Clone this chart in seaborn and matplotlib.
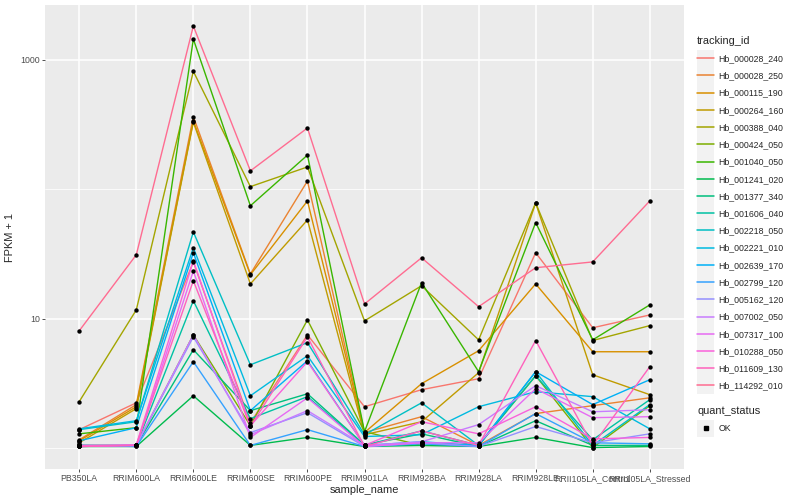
import pandas as pd
import matplotlib
matplotlib.use('Agg')
import matplotlib.pyplot as plt
import seaborn as sns
from matplotlib.lines import Line2D
from matplotlib.patches import Rectangle
from matplotlib.legend_handler import HandlerLine2D
from matplotlib.ticker import FixedLocator, NullFormatter

# muestras (eje x)
samples = ['PB350LA', 'RRIM600LA', 'RRIM600LE', 'RRIM600SE', 'RRIM600PE',
           'RRIM901LA', 'RRIM928BA', 'RRIM928LA', 'RRIM928LE',
           'RRII105LA_Control', 'RRII105LA_Stressed']

tracking_ids = ['Hb_000028_240', 'Hb_000028_250', 'Hb_000115_190', 'Hb_000264_160',
                'Hb_000388_040', 'Hb_000424_050', 'Hb_001040_050', 'Hb_001241_020',
                'Hb_001377_340', 'Hb_001606_040', 'Hb_002218_050', 'Hb_002221_010',
                'Hb_002639_170', 'Hb_002799_120', 'Hb_005162_120', 'Hb_007002_050',
                'Hb_007317_100', 'Hb_010288_050', 'Hb_011609_130', 'Hb_114292_010']

# colores tipo ggplot (hue_pal)
colors = ['#F8766D', '#EA8331', '#D89000', '#C09B00', '#A3A500', '#7CAE00',
          '#39B600', '#00BB4E', '#00BF7D', '#00C1A3', '#00BFC4', '#00BAE0',
          '#00B0F6', '#35A2FF', '#9590FF', '#C77CFF', '#E76BF3', '#FA62DB',
          '#FF62BC', '#FF6C91']

# FPKM + 1 por gen, en el orden de samples
hb_000028_240 = [1.39, 2.24, 27.5, 1.57, 7.51, 2.09, 2.83, 3.44, 32.4, 8.52, 10.7]
hb_000028_250 = [1.16, 2.17, 365, 22.2, 116, 1.32, 1.75, 1.05, 1.85, 2.13, 2.45]
hb_000115_190 = [1.14, 2.09, 338, 21.9, 81.4, 1.32, 3.15, 5.66, 18.6, 5.56, 5.56]
hb_000264_160 = [1.10, 2.02, 331, 18.6, 58.0, 1.27, 1.60, 3.83, 78.6, 3.69, 2.59]
hb_000388_040 = [2.29, 11.7, 817, 105, 149, 9.63, 18.0, 6.87, 78.6, 6.79, 8.85]
hb_000424_050 = [1.03, 1.05, 7.51, 1.49, 9.80, 1.34, 1.05, 1.05, 3.63, 1.01, 2.13]
hb_001040_050 = [1.29, 1.44, 1450, 74.7, 184, 1.34, 19.0, 3.90, 55.4, 6.87, 12.8]
hb_001241_020 = [1.03, 1.03, 2.54, 1.05, 1.21, 1.03, 1.05, 1.03, 1.21, 1.01, 1.03]
hb_001377_340 = [1.05, 1.05, 5.76, 1.95, 2.63, 1.06, 1.29, 1.03, 1.63, 1.05, 1.05]
hb_001606_040 = [1.05, 1.05, 13.8, 1.69, 2.50, 1.05, 1.36, 1.05, 3.63, 1.16, 2.37]
hb_002218_050 = [1.39, 1.60, 46.9, 4.41, 6.54, 1.27, 2.24, 1.05, 3.90, 1.05, 2.17]
hb_002221_010 = [1.41, 1.63, 35.5, 2.54, 5.18, 1.23, 1.27, 2.09, 2.73, 2.50, 1.41]
hb_002639_170 = [1.14, 1.44, 32.4, 1.95, 4.74, 1.05, 1.12, 1.05, 3.90, 2.17, 3.38]
hb_002799_120 = [1.05, 1.03, 4.66, 1.05, 1.39, 1.03, 1.08, 1.03, 1.85, 1.10, 1.08]
hb_005162_120 = [1.03, 1.05, 7.25, 1.32, 1.88, 1.03, 1.10, 1.03, 1.47, 1.10, 1.29]
hb_007002_050 = [1.03, 1.06, 7.51, 1.27, 1.95, 1.05, 1.12, 1.52, 3.04, 1.91, 1.98]
hb_007317_100 = [1.03, 1.05, 23.4, 1.21, 2.45, 1.03, 1.10, 1.10, 2.88, 1.72, 1.75]
hb_010288_050 = [1.05, 1.06, 28.0, 1.49, 4.66, 1.05, 1.60, 1.29, 2.09, 1.18, 1.21]
hb_011609_130 = [1.03, 1.05, 19.7, 1.47, 7.25, 1.03, 1.36, 1.05, 6.79, 1.05, 4.26]
hb_114292_010 = [8.07, 31.2, 1830, 139, 298, 13.0, 29.6, 12.4, 24.8, 27.5, 81.4]

series = [hb_000028_240, hb_000028_250, hb_000115_190, hb_000264_160,
          hb_000388_040, hb_000424_050, hb_001040_050, hb_001241_020,
          hb_001377_340, hb_001606_040, hb_002218_050, hb_002221_010,
          hb_002639_170, hb_002799_120, hb_005162_120, hb_007002_050,
          hb_007317_100, hb_010288_050, hb_011609_130, hb_114292_010]

rows = []
for tid, vals in zip(tracking_ids, series):
    for s, v in zip(samples, vals):
        rows.append({'tracking_id': tid, 'sample_name': s, 'fpkm1': v,
                     'quant_status': 'OK'})
data = pd.DataFrame(rows)

sns.set_style('darkgrid', {'axes.facecolor': '#EBEBEB', 'grid.color': 'white'})
plt.rcParams['font.family'] = ['Liberation Sans', 'DejaVu Sans']

fig = plt.figure(figsize=(8, 5), dpi=100)
ax = fig.add_axes([45 / 800, 31 / 500, 639 / 800, 464 / 500])

sns.lineplot(data=data, x='sample_name', y='fpkm1', hue='tracking_id',
             hue_order=tracking_ids, palette=dict(zip(tracking_ids, colors)),
             sort=False, estimator=None, legend=False, linewidth=1.0, ax=ax)
sns.scatterplot(data=data, x='sample_name', y='fpkm1', color='black', s=10,
                linewidth=0, legend=False, ax=ax, zorder=3)

ax.set_yscale('log')
ax.set_ylim(0.69, 2660)
ax.set_xlim(-0.6, len(samples) - 0.4)
ax.yaxis.set_major_locator(FixedLocator([10, 1000]))
ax.set_yticklabels(['10', '1000'])
ax.yaxis.set_minor_locator(FixedLocator([1, 100]))
ax.yaxis.set_minor_formatter(NullFormatter())
ax.grid(which='major', color='white', linewidth=1.1)
ax.grid(which='minor', axis='y', color='white', linewidth=0.55)
ax.tick_params(which='major', bottom=True, left=True, length=2.5, width=0.6,
               color='#333333', labelsize=6.3, labelcolor='#4D4D4D', pad=1.0)
ax.tick_params(which='minor', length=0)
for sp in ax.spines.values():
    sp.set_visible(False)
ax.set_xlabel('sample_name', fontsize=7.9, labelpad=1.5)
ax.set_ylabel('FPKM + 1', fontsize=7.9, labelpad=4)


class GreyKey(HandlerLine2D):
    def create_artists(self, legend, orig_handle, xdescent, ydescent,
                       width, height, fontsize, trans):
        side = 12.4
        rect = Rectangle((-xdescent, -ydescent + height / 2 - side / 2), width, side,
                         facecolor='#F2F2F2', edgecolor='none', transform=trans)
        arts = super().create_artists(legend, orig_handle, xdescent, ydescent,
                                      width, height, fontsize, trans)
        return [rect] + arts


line_handles = [Line2D([], [], color=c, lw=1.1) for c in colors]
leg1 = fig.legend(line_handles, tracking_ids, title='tracking_id',
                  loc='upper left', bbox_to_anchor=(697 / 800, 1 - 36 / 500),
                  frameon=False, fontsize=6.3, title_fontsize=7.9,
                  handlelength=1.97, handletextpad=0.45, labelspacing=0.94,
                  borderpad=0, borderaxespad=0, alignment='left',
                  handler_map={Line2D: GreyKey()})

pt_handle = [Line2D([], [], color='black', marker='s', markersize=2.5, lw=0)]
leg2 = fig.legend(pt_handle, ['OK'], title='quant_status',
                  loc='upper left', bbox_to_anchor=(697 / 800, 1 - 406 / 500),
                  frameon=False, fontsize=6.3, title_fontsize=7.9,
                  handlelength=1.97, handletextpad=0.45, labelspacing=0.94,
                  borderpad=0, borderaxespad=0, alignment='left',
                  handler_map={Line2D: GreyKey()})

fig.savefig('out.png', dpi=100)
